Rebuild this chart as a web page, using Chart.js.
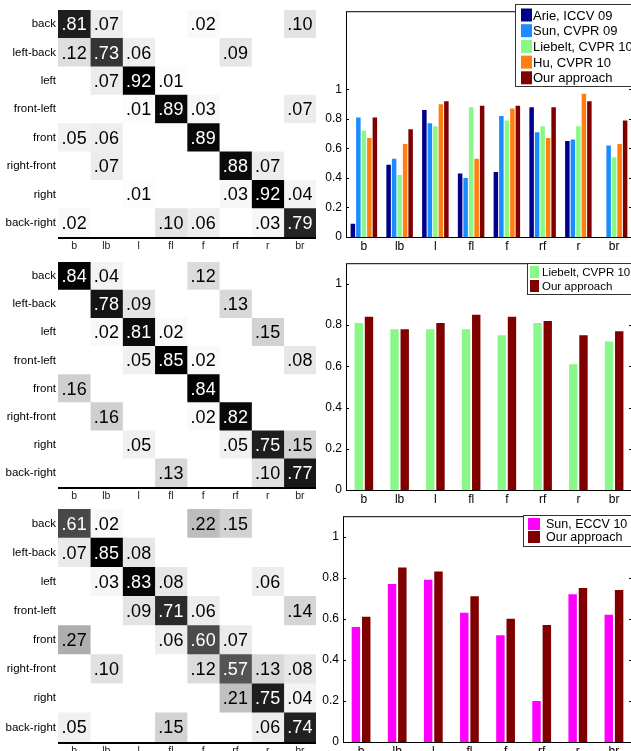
<!DOCTYPE html>
<html lang="en">
<head>
    <meta charset="UTF-8">
    <title>Viewpoint confusion matrices</title>
    <script src="https://cdn.jsdelivr.net/npm/chart.js"></script>
    <style>
        body { margin: 0; background: #fff; overflow: hidden; }
        #page { position: relative; width: 631px; height: 751px; overflow: hidden; }
        canvas { position: absolute; }
    </style>
</head>
<body>
<div id="page">
    <canvas id="m1" width="320" height="255" style="left:0;top:0"></canvas>
    <canvas id="m2" width="320" height="253" style="left:0;top:252px"></canvas>
    <canvas id="m3" width="320" height="261" style="left:0;top:499px"></canvas>
    <canvas id="b1" width="334" height="255" style="left:300px;top:0"></canvas>
    <canvas id="b2" width="334" height="256" style="left:300px;top:252px"></canvas>
    <canvas id="b3" width="334" height="255" style="left:300px;top:505px"></canvas>
</div>
<script>
    // rows = true view, columns = predicted view
    const rowLabels = ['back', 'left-back', 'left', 'front-left', 'front', 'right-front', 'right', 'back-right'];
    const colLabels = ['b', 'lb', 'l', 'fl', 'f', 'rf', 'r', 'br'];

    const confusionTop = [
        [.81, .07, 0, 0, .02, 0, 0, .10],
        [.12, .73, .06, 0, 0, .09, 0, 0],
        [0, .07, .92, .01, 0, 0, 0, 0],
        [0, 0, .01, .89, .03, 0, 0, .07],
        [.05, .06, 0, 0, .89, 0, 0, 0],
        [0, .07, 0, 0, 0, .88, .07, 0],
        [0, 0, .01, 0, 0, .03, .92, .04],
        [.02, 0, 0, .10, .06, 0, .03, .79]
    ];
    const confusionMid = [
        [.84, .04, 0, 0, .12, 0, 0, 0],
        [0, .78, .09, 0, 0, .13, 0, 0],
        [0, .02, .81, .02, 0, 0, .15, 0],
        [0, 0, .05, .85, .02, 0, 0, .08],
        [.16, 0, 0, 0, .84, 0, 0, 0],
        [0, .16, 0, 0, .02, .82, 0, 0],
        [0, 0, .05, 0, 0, .05, .75, .15],
        [0, 0, 0, .13, 0, 0, .10, .77]
    ];
    const confusionBot = [
        [.61, .02, 0, 0, .22, .15, 0, 0],
        [.07, .85, .08, 0, 0, 0, 0, 0],
        [0, .03, .83, .08, 0, 0, .06, 0],
        [0, 0, .09, .71, .06, 0, 0, .14],
        [.27, 0, 0, .06, .60, .07, 0, 0],
        [0, .10, 0, 0, .12, .57, .13, .08],
        [0, 0, 0, 0, 0, .21, .75, .04],
        [.05, 0, 0, .15, 0, 0, .06, .74]
    ];

    // bar chart series (per view b..br)
    const arieIccv09   = [0.09, 0.49, 0.86, 0.43, 0.44, 0.88, 0.65, 0];
    const sunCvpr09    = [0.81, 0.53, 0.77, 0.40, 0.82, 0.71, 0.66, 0.62];
    const liebeltTop   = [0.72, 0.42, 0.75, 0.88, 0.79, 0.75, 0.75, 0.54];
    const huCvpr10     = [0.67, 0.63, 0.90, 0.53, 0.87, 0.67, 0.97, 0.63];
    const oursTop      = [0.81, 0.73, 0.92, 0.89, 0.89, 0.88, 0.92, 0.79];

    const liebeltMid   = [0.81, 0.78, 0.78, 0.78, 0.75, 0.81, 0.61, 0.72];
    const oursMid      = [0.84, 0.78, 0.81, 0.85, 0.84, 0.82, 0.75, 0.77];

    const sunEccv10    = [0.56, 0.77, 0.79, 0.63, 0.52, 0.20, 0.72, 0.62];
    const oursBot      = [0.61, 0.85, 0.83, 0.71, 0.60, 0.57, 0.75, 0.74];

    const yTicks = [0, 0.2, 0.4, 0.6, 0.8, 1];

    const FONT = '"Liberation Sans", Arial, Helvetica, sans-serif';
    Chart.defaults.font.family = FONT;
    Chart.defaults.color = '#000';

    function fmtCell(v) {
        return '.' + String(Math.round(v * 100)).padStart(2, '0');
    }

    function makeMatrix(id, matrix) {
        const maxV = Math.max(...matrix.flat());
        const shade = v => {
            const g = Math.round(255 * (1 - v / maxV));
            return 'rgb(' + g + ',' + g + ',' + g + ')';
        };
        const cellText = {
            id: 'cellText',
            afterDatasetsDraw(chart) {
                const ctx = chart.ctx;
                const a = chart.chartArea;
                ctx.save();
                ctx.font = '18px ' + FONT;
                ctx.textAlign = 'center';
                ctx.textBaseline = 'middle';
                colLabels.forEach((c, j) => {
                    chart.getDatasetMeta(j).data.forEach((el, r) => {
                        const v = matrix[r][j];
                        if (!v) return;
                        ctx.fillStyle = v / maxV > 0.5 ? '#fff' : '#000';
                        ctx.fillText(fmtCell(v), (el.x + el.base) / 2, el.y + 1);
                    });
                });
                // bottom axis line
                ctx.strokeStyle = '#000';
                ctx.lineWidth = 2;
                ctx.beginPath();
                ctx.moveTo(a.left, a.bottom + 1);
                ctx.lineTo(a.right, a.bottom + 1);
                ctx.stroke();
                ctx.restore();
            }
        };
        new Chart(document.getElementById(id), {
            type: 'bar',
            data: {
                labels: rowLabels,
                datasets: colLabels.map((c, j) => ({
                    label: c,
                    data: rowLabels.map(() => [j, j + 1]),
                    backgroundColor: matrix.map(row => shade(row[j])),
                    borderWidth: 0,
                    barPercentage: 1,
                    categoryPercentage: 1,
                    grouped: false
                }))
            },
            options: {
                indexAxis: 'y',
                responsive: false,
                animation: false,
                layout: { padding: { top: 10, right: 4 } },
                plugins: { legend: { display: false }, tooltip: { enabled: false } },
                scales: {
                    x: { type: 'linear', min: 0, max: 8, display: false },
                    cols: {
                        type: 'category',
                        labels: colLabels,
                        position: 'bottom',
                        offset: true,
                        grid: { display: false, drawTicks: false, tickLength: 0 },
                        border: { display: false },
                        ticks: { color: '#222', font: { size: 10.5 }, padding: 3, maxRotation: 0 },
                        afterFit: a => { a.height = 18; }
                    },
                    y: {
                        grid: { display: false, drawTicks: false, tickLength: 0 },
                        border: { display: false },
                        ticks: { color: '#000', font: { size: 11.5 }, padding: 2 },
                        afterFit: a => { a.width = 58; }
                    }
                }
            },
            plugins: [cellText]
        });
    }

    function makeBars(id, series, yMax, yAxisWidth, box) {
        const n = series.length;
        const frame = {
            id: 'frame',
            afterDraw(chart) {
                const ctx = chart.ctx;
                const a = chart.chartArea;
                const ys = chart.scales.y;
                ctx.save();
                ctx.strokeStyle = '#000';
                ctx.lineWidth = 1;
                ctx.strokeRect(a.left + 0.5, a.top + 0.5, a.right - a.left, a.bottom - a.top);
                ctx.beginPath();
                yTicks.forEach(t => {
                    const py = Math.round(ys.getPixelForValue(t)) + 0.5;
                    ctx.moveTo(a.left, py); ctx.lineTo(a.left + 3, py);
                    ctx.moveTo(a.right, py); ctx.lineTo(a.right - 3, py);
                });
                ctx.stroke();

                // legend box
                ctx.fillStyle = '#fff';
                ctx.fillRect(box.x, box.y, box.w, box.h);
                ctx.strokeStyle = '#333';
                ctx.strokeRect(box.x + 0.5, box.y + 0.5, box.w, box.h);
                ctx.font = box.font + 'px ' + FONT;
                ctx.textBaseline = 'middle';
                ctx.textAlign = 'left';
                chart.data.datasets.forEach((ds, i) => {
                    const cy = box.y + box.row0 + i * box.gap;
                    ctx.fillStyle = ds.backgroundColor;
                    ctx.fillRect(box.x + box.sx, cy - box.sh / 2, box.sw, box.sh);
                    ctx.fillStyle = '#000';
                    ctx.fillText(ds.label, box.x + box.tx, cy + 1);
                });
                ctx.restore();
            }
        };
        new Chart(document.getElementById(id), {
            type: 'bar',
            data: {
                labels: colLabels,
                datasets: series.map(s => ({
                    label: s.label,
                    data: s.data,
                    backgroundColor: s.color,
                    borderWidth: 0,
                    categoryPercentage: Math.min(0.8, n / (n + 1.5)),
                    barPercentage: 0.82
                }))
            },
            options: {
                responsive: false,
                animation: false,
                layout: { padding: { top: 8, right: 2 } },
                plugins: { legend: { display: false }, tooltip: { enabled: false } },
                scales: {
                    x: {
                        grid: { display: false, drawTicks: false, tickLength: 0 },
                        border: { display: false },
                        ticks: { color: '#000', font: { size: 12 }, padding: 2, maxRotation: 0 },
                        afterFit: a => { a.height = 18; }
                    },
                    y: {
                        min: 0,
                        max: yMax,
                        grid: { display: false, drawTicks: false, tickLength: 0 },
                        border: { display: false },
                        afterBuildTicks: a => { a.ticks = yTicks.map(v => ({ value: v })); },
                        ticks: {
                            color: '#000',
                            font: { size: 12 },
                            padding: 4,
                            callback: v => (v === 0 || v === 1) ? String(v) : v.toFixed(1)
                        },
                        afterFit: a => { a.width = yAxisWidth; }
                    }
                }
            },
            plugins: [frame]
        });
    }

    makeMatrix('m1', confusionTop);
    makeMatrix('m2', confusionMid);
    makeMatrix('m3', confusionBot);

    makeBars('b1', [
        { label: 'Arie, ICCV 09', data: arieIccv09, color: '#00008c' },
        { label: 'Sun, CVPR 09', data: sunCvpr09, color: '#1a8cff' },
        { label: 'Liebelt, CVPR 10', data: liebeltTop, color: '#88f888' },
        { label: 'Hu, CVPR 10', data: huCvpr10, color: '#ff7f10' },
        { label: 'Our approach', data: oursTop, color: '#800000' }
    ], 1.53, 46, { x: 215, y: 4, w: 130, h: 82, row0: 11, gap: 15.7, sx: 6, sw: 11, sh: 13, tx: 18, font: 13 });

    makeBars('b2', [
        { label: 'Liebelt, CVPR 10', data: liebeltMid, color: '#88f888' },
        { label: 'Our approach', data: oursMid, color: '#800000' }
    ], 1.1, 46, { x: 227, y: 11, w: 120, h: 31, row0: 9, gap: 14, sx: 3, sw: 9, sh: 12, tx: 15, font: 11.5 });

    makeBars('b3', [
        { label: 'Sun, ECCV 10', data: sunEccv10, color: '#ff00ff' },
        { label: 'Our approach', data: oursBot, color: '#800000' }
    ], 1.1, 43, { x: 223, y: 10, w: 120, h: 31, row0: 9, gap: 13, sx: 5, sw: 12, sh: 12, tx: 23, font: 12.5 });
</script>
</body>
</html>
